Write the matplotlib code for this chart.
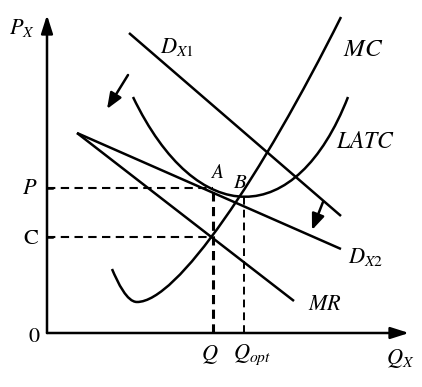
import numpy as np
from matplotlib import pyplot as plt
from matplotlib.path import Path
from matplotlib.patches import PathPatch, FancyArrowPatch

plt.rcParams['mathtext.fontset'] = 'stix'
plt.rcParams['font.family'] = ['Liberation Serif', 'DejaVu Serif']

# key levels (schematic units, origin at the corner of the axes)
q_mono, q_opt = 166, 197
p_level, c_level = 145, 96

# straight demand / revenue lines: (start, end)
d_x1 = [(82, 300), (294, 117)]
d_x2 = [(30, 200), (294, 84)]
mr = [(30, 200), (247, 32)]

# curves given as cubic bezier control points
mc_low = [(65, 64), (71, 50), (80, 31), (90, 31)]
mc_high = [(90, 31), (130, 31), (214, 156), (294, 316)]
latc = [(86, 236), (150, 103), (249, 103), (301, 236)]

# shift arrows
shift_1 = [(81, 258), (60, 224)]
shift_2 = [(276, 131), (265, 103)]

fig = plt.figure('chart', figsize=(4.22, 3.87), dpi=100)
ax = fig.add_axes([0, 0, 1, 1])
ax.set_xlim(-47, 375)
ax.set_ylim(-54, 333)
ax.axis('off')

lw = 1.8
# axes with arrow heads
ax.annotate('', xy=(0, 318), xytext=(0, 0),
            arrowprops=dict(arrowstyle='-|>,head_length=1.1,head_width=0.35',
                            color='black', lw=lw, shrinkA=0, shrinkB=0))
ax.annotate('', xy=(362, 0), xytext=(0, 0),
            arrowprops=dict(arrowstyle='-|>,head_length=1.1,head_width=0.35',
                            color='black', lw=lw, shrinkA=0, shrinkB=0))

for seg in (d_x1, d_x2, mr):
    xs, ys = zip(*seg)
    ax.plot(xs, ys, color='black', lw=lw, solid_capstyle='butt')

def bezier(pts):
    codes = [Path.MOVETO] + [Path.CURVE4] * 3
    return PathPatch(Path(pts, codes), fill=False, lw=lw, edgecolor='black')

for c in (mc_low, mc_high, latc):
    ax.add_patch(bezier(c))

# dashed guides
ax.plot([0, q_mono], [p_level, p_level], color='black', lw=1.5, ls=(0, (4, 2.6)))
ax.plot([0, q_mono], [c_level, c_level], color='black', lw=1.5, ls=(0, (4, 2.6)))
ax.plot([q_mono, q_mono], [0, p_level], color='black', lw=2.2, ls=(0, (3, 1.8)))
ax.plot([q_opt, q_opt], [0, 136], color='black', lw=1.4, ls=(0, (4, 2.6)))
ax.plot([0, 5], [p_level, p_level], color='black', lw=lw)
ax.plot([0, 5], [c_level, c_level], color='black', lw=lw)

for a in (shift_1, shift_2):
    ax.add_patch(FancyArrowPatch(a[0], a[1],
                                 arrowstyle='-|>,head_length=6,head_width=2.4',
                                 color='black', lw=lw, shrinkA=0, shrinkB=0,
                                 mutation_scale=1.6))

fs = 16
ax.text(-25, 305, r'$P_X$', fontsize=fs, ha='center', va='center')
ax.text(-17, 143, r'$P$', fontsize=fs, ha='center', va='center')
ax.text(-16, 94, r'$\mathrm{C}$', fontsize=fs, ha='center', va='center')
ax.text(-13, -5, r'$\mathrm{0}$', fontsize=fs, ha='center', va='center')
ax.text(163, -22, r'$Q$', fontsize=fs, ha='center', va='center')
ax.text(186, -22, r'$Q_{opt}$', fontsize=fs, ha='left', va='center')
ax.text(339, -25, r'$Q_X$', fontsize=fs, ha='left', va='center')
ax.text(113, 286, r'$D_{X1}$', fontsize=fs, ha='left', va='center')
ax.text(296, 283, r'$MC$', fontsize=18, ha='left', va='center')
ax.text(289, 190, r'$LATC$', fontsize=17, ha='left', va='center')
ax.text(170, 160, r'$A$', fontsize=14, ha='center', va='center')
ax.text(193, 149, r'$B$', fontsize=15, ha='center', va='center')
ax.text(301, 76, r'$D_{X2}$', fontsize=fs, ha='left', va='center')
ax.text(261, 27, r'$MR$', fontsize=fs, ha='left', va='center')

plt.savefig('out.png', dpi=100)
